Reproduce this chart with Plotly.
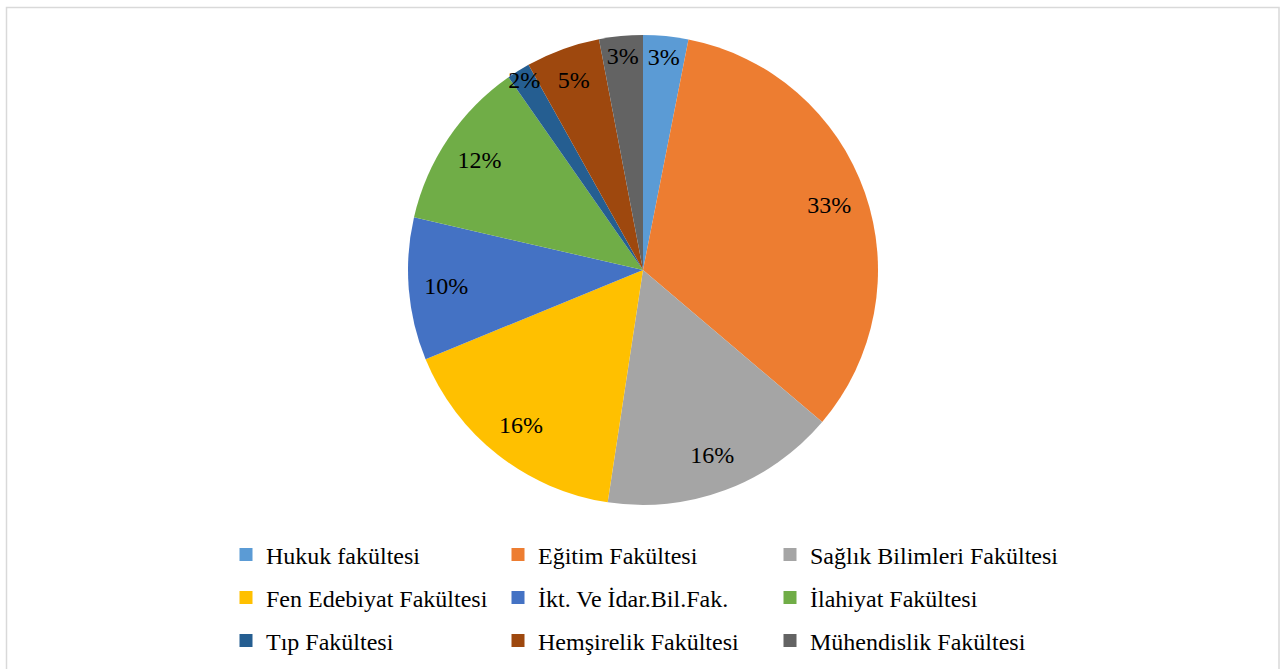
import plotly.graph_objects as go

labels = ["Hukuk fakültesi", "Eğitim Fakültesi", "Sağlık Bilimleri Fakültesi",
          "Fen Edebiyat Fakültesi", "İkt. Ve İdar.Bil.Fak.", "İlahiyat Fakültesi",
          "Tıp Fakültesi", "Hemşirelik Fakültesi", "Mühendislik Fakültesi"]
values = [3.1, 33.1, 16.2, 16.4, 9.8, 11.7, 1.6, 5.1, 3.0]
colors = ["#5B9BD5", "#ED7D31", "#A5A5A5", "#FFC000", "#4472C4", "#70AD47",
          "#255E91", "#9E480E", "#636363"]

FONT = "Liberation Serif, Times New Roman, serif"
W, H = 1285, 669

fig = go.Figure()

# pie centred at (643,270) px, radius 235 px
cx, cy, r = 643, 270, 235
dom = dict(x=[(cx - r) / W, (cx + r) / W], y=[(H - cy - r) / H, (H - cy + r) / H])

# coloured slices
fig.add_trace(go.Pie(
    labels=labels, values=values, sort=False, direction="clockwise", rotation=0,
    marker=dict(colors=colors, line=dict(width=0)),
    textinfo="none", showlegend=False, hoverinfo="label+percent",
    domain=dom,
))
# transparent ring carrying the percentage labels near the outer edge
fig.add_trace(go.Pie(
    labels=labels, values=values, sort=False, direction="clockwise", rotation=0,
    hole=0.68,
    marker=dict(colors=["rgba(0,0,0,0)"] * len(values), line=dict(width=0)),
    texttemplate="%{percent:.0%}", textposition="inside",
    insidetextorientation="horizontal",
    textfont=dict(family=FONT, size=24, color="#000000"),
    showlegend=False, hoverinfo="skip",
    domain=dom,
))

# legend entries (three rows of three)
legend_names = ["legend", "legend2", "legend3"]
for i, (lab, col) in enumerate(zip(labels, colors)):
    fig.add_trace(go.Scatter(
        x=[None], y=[None], mode="markers", name=lab,
        marker=dict(symbol="square", size=13, color=col),
        legend=legend_names[i // 3], showlegend=True, hoverinfo="skip",
        legendwidth=320 if i % 3 == 2 else 227,
    ))

row_y = [555, 598, 641]
leg_x = 226
leg_common = dict(orientation="h", xanchor="left", yanchor="middle",
                  entrywidth=227, entrywidthmode="pixels",
                  font=dict(family=FONT, size=24, color="#000000"),
                  bgcolor="rgba(0,0,0,0)", borderwidth=0, itemclick=False)
fig.update_layout(
    legend=dict(x=leg_x / W, y=1 - row_y[0] / H, **leg_common),
    legend2=dict(x=leg_x / W, y=1 - row_y[1] / H, **leg_common),
    legend3=dict(x=leg_x / W, y=1 - row_y[2] / H, **leg_common),
)

fig.update_layout(
    width=W, height=H,
    margin=dict(l=0, r=0, t=0, b=0),
    paper_bgcolor="white", plot_bgcolor="white",
    xaxis=dict(visible=False), yaxis=dict(visible=False),
    uniformtext=dict(minsize=24, mode="show"),
    shapes=[dict(type="rect", xref="paper", yref="paper",
                 x0=6.5 / W, x1=1279 / W, y0=-0.05, y1=1 - 7.5 / H,
                 line=dict(color="#D9D9D9", width=1.5), fillcolor="rgba(0,0,0,0)",
                 layer="below")],
)

fig.write_html("out.html", config={"displayModeBar": False},
               post_script="document.body.style.margin='0';document.body.style.overflow='hidden';")
